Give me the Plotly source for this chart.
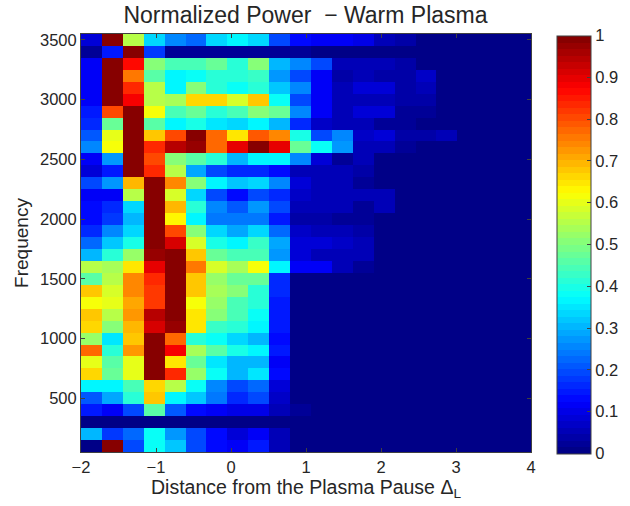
import plotly.graph_objects as go

# Power values, rows listed from the top (3500 Hz) to the bottom (100 Hz), columns left to right
ROWS = [
 [.09,1,.56,.34,.25,.22,.33,.37,.34,.2,.13,.11,.11,.1,.06,.04],
 [.03,.15,1,.18,.02,.02,.02,.02,.02,.02,.02],
 [.12,1,.86,.5,.44,.44,.47,.42,.51,.31,.26,.19,.05,.05,.05,.04],
 [.11,1,.76,.46,.37,.38,.41,.42,.43,.28,.2,.11,.04,.05,.04,.04,.07],
 [.11,1,.84,.56,.37,.51,.41,.38,.41,.32,.25,.11,.05,.08,.08,.04,.05],
 [.11,1,.88,.56,.54,.67,.66,.58,.68,.38,.19,.11,.05,.06,.06,.04,.04],
 [.15,.81,1,.61,.44,.47,.42,.44,.5,.47,.25,.11,.06,.08,.08,.02,.02],
 [.17,.48,1,.46,.37,.4,.35,.34,.36,.3,.17,.07,.05,.05,.02,.03],
 [.21,.6,1,.68,.8,1,.77,.65,.79,.74,.4,.2,.25,.07,.08,.04,.04,.05],
 [.25,.62,1,.84,.95,.97,.77,.9,1,.9,.47,.38,.27,.05,.05,.03],
 [.12,.28,1,.8,.51,.46,.41,.31,.37,.37,.26,.09,.03,.05],
 [.08,.15,1,.84,.56,.29,.2,.17,.17,.14,.06,.05,.05,.04],
 [.19,.27,.7,1,.74,.51,.36,.32,.34,.26,.08,.06,.05,.02],
 [.11,.11,.56,1,.59,.34,.19,.14,.2,.16,.07,.06,.06,.06,.05],
 [.13,.16,.34,1,.69,.41,.26,.21,.27,.19,.06,.06,.05,.03,.05],
 [.13,.18,.31,1,.64,.36,.24,.24,.24,.15,.04,.04,.02,.03],
 [.17,.25,.34,1,.8,.51,.33,.29,.33,.22,.07,.05,.05,.04],
 [.22,.32,.4,1,.92,.59,.4,.36,.43,.29,.09,.09,.07,.06],
 [.31,.42,.53,.97,1,.68,.47,.44,.45,.27,.08,.05,.06,.05],
 [.55,.54,.65,.9,1,.76,.59,.54,.61,.37,.12,.11,.06,.02],
 [.46,.56,.74,.84,1,.68,.53,.48,.48,.16],
 [.68,.58,.74,.82,1,.68,.54,.5,.42,.16],
 [.62,.6,.71,.82,1,.62,.53,.44,.41,.15],
 [.68,.56,.72,.95,1,.65,.5,.45,.39,.15],
 [.67,.51,.7,.91,.97,.65,.43,.41,.37,.15],
 [.53,.35,.68,1,.77,.41,.39,.34,.31,.13],
 [.78,.42,.72,1,.89,.54,.46,.4,.36,.15],
 [.6,.46,.6,1,.65,.47,.35,.31,.31,.12],
 [.66,.48,.6,1,.83,.52,.38,.31,.35,.13],
 [.36,.37,.44,.66,.55,.38,.26,.2,.22,.09],
 [.21,.29,.41,.68,.37,.32,.24,.17,.19,.07],
 [.15,.11,.2,.46,.21,.14,.11,.1,.1,.06,.02],
 [.01,.01,.01,.01,.01,.01,.01,.01,.01,.01],
 [.3,.18,.23,.39,.27,.2,.14,.09,.11,.05],
 [.01,1,.2,.39,.32,.2,.14,.12,.15,.06],
]
N_COLS = 22
X_START = -2.0
X_STEP = 0.2787
Y_START = 100
Y_STEP = 100
X_TICKS = [-2, -1, 0, 1, 2, 3, 4]
X_TICK_LABELS = ["\u22122", "\u22121", "0", "1", "2", "3", "4"]
Y_TICKS = [500, 1000, 1500, 2000, 2500, 3000, 3500]
CB_TICKS = [0, .1, .2, .3, .4, .5, .6, .7, .8, .9, 1]
CB_LABELS = ["0", "0.1", "0.2", "0.3", "0.4", "0.5", "0.6", "0.7", "0.8", "0.9", "1"]

z = [r + [0] * (N_COLS - len(r)) for r in reversed(ROWS)]


def jet(t):
    f = lambda c: max(0.0, min(1.0, 1.5 - abs(4 * t - c)))
    return "rgb(%d,%d,%d)" % (round(255 * f(3)), round(255 * f(2)), round(255 * f(1)))


LEVELS = 64
colorscale = []
for i in range(LEVELS):
    c = jet((i + 0.5) / LEVELS)
    colorscale += [[i / LEVELS, c], [(i + 1) / LEVELS, c]]

FONT = "Liberation Sans, Arial, sans-serif"
TXT = "#262626"
AX = "#404040"

fig = go.Figure(go.Heatmap(
    z=z,
    x0=X_START + X_STEP / 2, dx=X_STEP,
    y0=Y_START, dy=Y_STEP,
    zmin=0, zmax=1,
    colorscale=colorscale,
    zsmooth=False,
    colorbar=dict(
        x=1.0567, xanchor="left", xpad=0,
        y=0.4964, yanchor="middle", ypad=0, len=1.0,
        thickness=34, outlinecolor=AX, outlinewidth=1,
        tickmode="array", tickvals=CB_TICKS, ticktext=CB_LABELS,
        ticks="inside", ticklen=4, tickcolor=AX,
        tickfont=dict(family=FONT, size=16.5, color=TXT),
    ),
))

axis = dict(
    showgrid=False, zeroline=False, showline=True, mirror="ticks",
    linecolor=AX, linewidth=1, ticks="inside", ticklen=4, tickcolor=AX,
    tickfont=dict(family=FONT, size=16.5, color=TXT),
    automargin=False,
)
fig.update_layout(
    width=630, height=506,
    margin=dict(l=81, r=99, t=33.5, b=54, pad=0, autoexpand=False),
    paper_bgcolor="white", plot_bgcolor="white",
    title=dict(text="Normalized Power \u00a0\u2212 Warm Plasma", x=305.5 / 630, xanchor="center",
               y=1 - 15 / 506, yanchor="middle",
               font=dict(family=FONT, size=23, color=TXT)),
    xaxis=dict(axis, range=[-2, 4], tickmode="array", tickvals=X_TICKS, ticktext=X_TICK_LABELS,
               title=dict(text="Distance from the Plasma Pause \u0394<sub>L</sub>", standoff=4,
                          font=dict(family=FONT, size=19.5, color=TXT))),
    yaxis=dict(axis, range=[50, 3550], tickmode="array", tickvals=Y_TICKS,
               title=dict(text="Frequency", standoff=6,
                          font=dict(family=FONT, size=19, color=TXT))),
)
fig.write_html("out.html", config={"displayModeBar": False},
               post_script="document.body.style.margin='0';document.body.style.overflow='hidden';")
